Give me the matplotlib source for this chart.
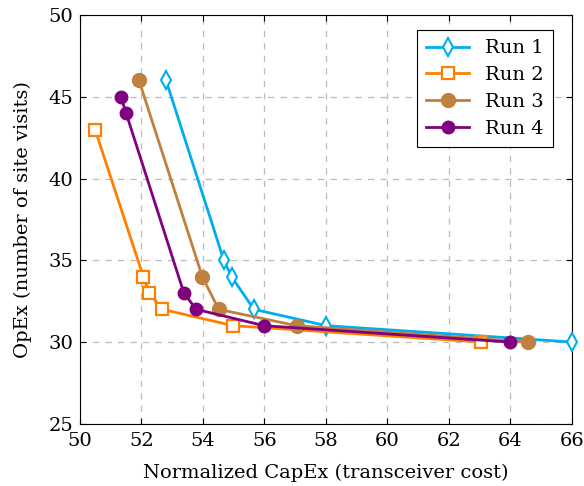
import matplotlib
matplotlib.use("Agg")
import matplotlib.pyplot as plt

# Pareto fronts
run1_x = [52.8, 54.68, 54.93, 55.66, 58.02, 66.0]
run1_y = [46, 35, 34, 32, 31, 30]
run2_x = [50.49, 52.06, 52.25, 52.68, 54.99, 63.06]
run2_y = [43, 34, 33, 32, 31, 30]
run3_x = [51.92, 53.98, 54.51, 57.05, 64.58]
run3_y = [46, 34, 32, 31, 30]
run4_x = [51.33, 51.5, 53.38, 53.78, 55.99, 63.98]
run4_y = [45, 44, 33, 32, 31, 30]

plt.rcParams['font.family'] = ['DejaVu Serif']

fig = plt.figure(figsize=(5.84, 4.86), dpi=100)
ax = fig.add_axes([0.137, 0.128, 0.842, 0.841])

ax.plot(run1_x, run1_y, color='#00ADEF', lw=2, marker='d', ms=9,
        mfc='white', mec='#00ADEF', mew=1.5, label='Run 1', clip_on=False, zorder=3)
ax.plot(run2_x, run2_y, color='#FF8000', lw=2, marker='s', ms=9,
        mfc='white', mec='#FF8000', mew=1.6, label='Run 2', clip_on=False, zorder=3)
ax.plot(run3_x, run3_y, color='#C0803F', lw=2, marker='o', ms=10,
        mfc='#C0803F', mec='#C0803F', label='Run 3', clip_on=False, zorder=3)
ax.plot(run4_x, run4_y, color='#800080', lw=2, marker='o', ms=9,
        mfc='#800080', mec='#800080', label='Run 4', clip_on=False, zorder=3)

ax.set_xlim(50, 66)
ax.set_ylim(25, 50)
ax.set_xticks(range(50, 67, 2))
ax.set_yticks(range(25, 51, 5))
ax.grid(True, color='#bbbbbb', ls=(0, (5, 5)), lw=0.9)
ax.tick_params(direction='in', top=True, right=True, labelsize=14, length=4)
ax.tick_params(axis='x', pad=6)
ax.tick_params(axis='y', pad=5)
for s in ax.spines.values():
    s.set_linewidth(0.8)

ax.set_xlabel('Normalized CapEx (transceiver cost)', fontsize=14, labelpad=10)
ax.set_ylabel('OpEx (number of site visits)', fontsize=14, labelpad=12)

leg = ax.legend(loc='upper right', fontsize=14, fancybox=False, framealpha=1,
                edgecolor='black', handlelength=2.2, borderpad=0.5,
                labelspacing=0.45, bbox_to_anchor=(0.982, 0.988))
leg.get_frame().set_linewidth(0.8)

fig.savefig('out.png', dpi=100)
